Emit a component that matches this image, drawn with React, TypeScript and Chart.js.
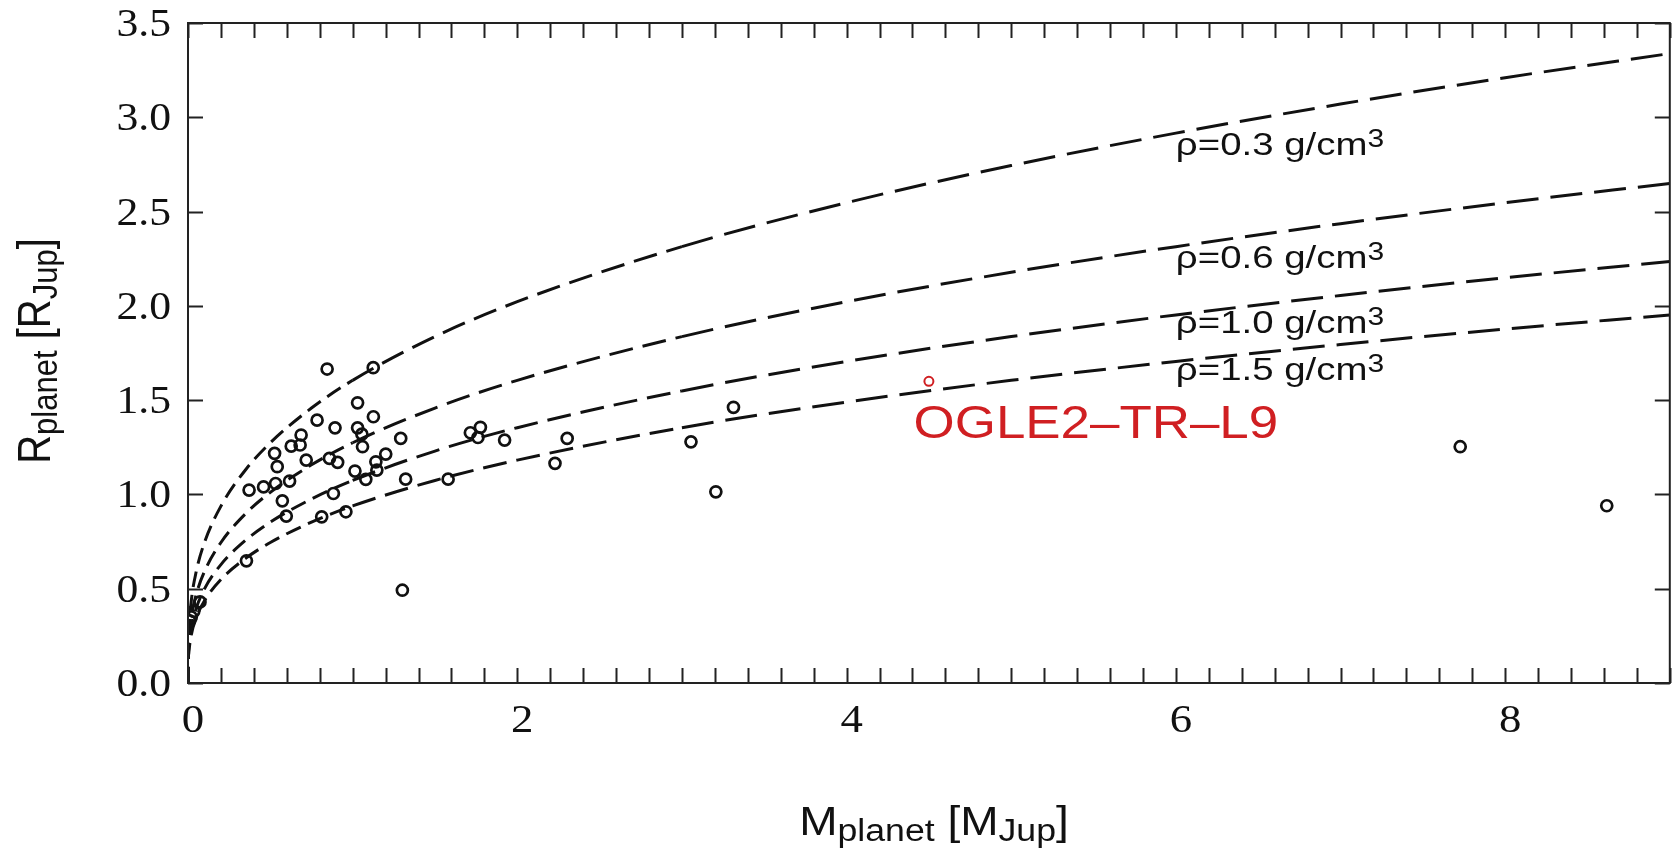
import { useEffect, useRef } from 'react';
import { Chart, registerables } from 'chart.js';

Chart.register(...registerables);

// Transiting planets: mass [M_Jup] and radius [R_Jup]
const PLANET_MASS = [
  0.845, 1.125, 1.03, 1.126, 0.784, 0.893, 1.03, 1.056, 0.687, 1.292,
  0.627, 0.681, 1.06, 0.526, 1.201, 0.718, 0.859, 0.909, 1.141, 0.542,
  1.147, 1.014, 0.617, 1.08, 0.532, 0.459, 0.371, 1.322, 1.58, 0.883,
  0.573, 0.597, 0.812, 0.959, 0.355, 1.302, 0.073, 1.715, 1.776, 1.761,
  1.923, 2.303, 2.229, 3.055, 3.313, 3.206, 7.727, 8.617,
  0.01, 0.02, 0.035,
];
const PLANET_RADIUS = [
  1.665, 1.672, 1.486, 1.412, 1.394, 1.353, 1.353, 1.32, 1.315, 1.297,
  1.256, 1.262, 1.253, 1.218, 1.214, 1.182, 1.191, 1.17, 1.173, 1.147,
  1.129, 1.124, 1.071, 1.08, 1.058, 1.04, 1.023, 1.081, 1.081, 1.005,
  0.966, 0.885, 0.881, 0.908, 0.648, 0.492, 0.43, 1.327, 1.356, 1.302,
  1.288, 1.297, 1.165, 1.279, 1.462, 1.014, 1.253, 0.94,
  0.33, 0.35, 0.38,
];

// OGLE2-TR-L9
const OGLE_MASS = [4.5];
const OGLE_RADIUS = [1.6];

// Iso-density curves, radius [R_Jup] tabulated against mass [M_Jup]
const CURVE_MASS = [0, 0.001, 0.005, 0.02, 0.05, 0.1, 0.2, 0.35, 0.5, 0.75, 1, 1.5, 2, 3, 4, 5, 6, 7, 8, 9];
const RADIUS_RHO_03 = [0, 0.16, 0.274, 0.436, 0.591, 0.745, 0.938, 1.131, 1.274, 1.458, 1.605, 1.837, 2.022, 2.314, 2.547, 2.744, 2.916, 3.07, 3.21, 3.338];
const RADIUS_RHO_06 = [0, 0.127, 0.218, 0.346, 0.469, 0.591, 0.745, 0.898, 1.011, 1.157, 1.274, 1.458, 1.605, 1.837, 2.022, 2.178, 2.314, 2.436, 2.547, 2.649];
const RADIUS_RHO_10 = [0, 0.107, 0.184, 0.292, 0.396, 0.499, 0.628, 0.757, 0.853, 0.976, 1.074, 1.23, 1.354, 1.549, 1.705, 1.837, 1.952, 2.055, 2.149, 2.235];
const RADIUS_RHO_15 = [0, 0.094, 0.16, 0.255, 0.346, 0.436, 0.549, 0.661, 0.745, 0.853, 0.939, 1.074, 1.182, 1.354, 1.49, 1.605, 1.705, 1.795, 1.877, 1.952];

const DENSITY_TEXT = ['ρ=0.3 g/cm', 'ρ=0.6 g/cm', 'ρ=1.0 g/cm', 'ρ=1.5 g/cm'];
const DENSITY_TEXT_X = [6.0, 6.0, 6.0, 6.0];
const DENSITY_TEXT_Y = [2.801, 2.201, 1.856, 1.607];

const X_TICK_VALUES = [0, 2, 4, 6, 8];
const X_TICK_LABELS = ['0', '2', '4', '6', '8'];
const Y_TICK_VALUES = [0, 0.5, 1.0, 1.5, 2.0, 2.5, 3.0, 3.5];
const Y_TICK_LABELS = ['0.0', '0.5', '1.0', '1.5', '2.0', '2.5', '3.0', '3.5'];

const SANS = '"Liberation Sans", Arial, sans-serif';
const SERIF = '"Liberation Serif", "Times New Roman", serif';
const INK = '#111';
const RED = '#d01f22';

type Run = { text: string; size: number; dy: number };

function drawRuns(
  ctx: CanvasRenderingContext2D,
  runs: Run[],
  x: number,
  y: number,
  family: string,
  color: string,
  align: 'left' | 'center' | 'right',
  sx: number,
  sy: number,
  rotate = false,
) {
  ctx.save();
  ctx.translate(x, y);
  if (rotate) ctx.rotate(-Math.PI / 2);
  ctx.scale(sx, sy);
  ctx.fillStyle = color;
  ctx.textAlign = 'left';
  ctx.textBaseline = 'alphabetic';
  let total = 0;
  const widths = runs.map((r) => {
    ctx.font = `${r.size}px ${family}`;
    const w = ctx.measureText(r.text).width;
    total += w;
    return w;
  });
  let cx = align === 'center' ? -total / 2 : align === 'right' ? -total : 0;
  runs.forEach((r, i) => {
    ctx.font = `${r.size}px ${family}`;
    ctx.fillText(r.text, cx, r.dy);
    cx += widths[i];
  });
  ctx.restore();
}

const framePlugin = {
  id: 'frameAndText',
  afterDraw(chart: any) {
    const { ctx, chartArea: a } = chart;
    const xs = chart.scales.x;
    const ys = chart.scales.y;
    const tick = 15;
    ctx.save();
    ctx.strokeStyle = '#222';
    ctx.lineWidth = 2;
    ctx.strokeRect(a.left, a.top, a.right - a.left, a.bottom - a.top);
    ctx.beginPath();
    for (const t of xs.ticks) {
      const px = Math.round(xs.getPixelForValue(t.value)) + 0.5;
      ctx.moveTo(px, a.bottom);
      ctx.lineTo(px, a.bottom - tick);
      ctx.moveTo(px, a.top);
      ctx.lineTo(px, a.top + tick);
    }
    for (const t of ys.ticks) {
      const py = Math.round(ys.getPixelForValue(t.value)) + 0.5;
      ctx.moveTo(a.left, py);
      ctx.lineTo(a.left + tick, py);
      ctx.moveTo(a.right, py);
      ctx.lineTo(a.right - tick, py);
    }
    ctx.stroke();
    ctx.restore();

    // tick labels
    X_TICK_VALUES.forEach((v, i) => {
      drawRuns(ctx, [{ text: X_TICK_LABELS[i], size: 40, dy: 0 }], xs.getPixelForValue(v) + 5, a.bottom + 49, SERIF, INK, 'center', 1.12, 1);
    });
    Y_TICK_VALUES.forEach((v, i) => {
      drawRuns(ctx, [{ text: Y_TICK_LABELS[i], size: 39, dy: 0 }], a.left - 17, ys.getPixelForValue(v) + 13, SERIF, INK, 'right', 1.12, 1);
    });

    // axis titles
    drawRuns(
      ctx,
      [
        { text: 'M', size: 40, dy: 0 },
        { text: 'planet', size: 31, dy: 6 },
        { text: ' [M', size: 40, dy: 0 },
        { text: 'Jup', size: 31, dy: 6 },
        { text: ']', size: 40, dy: 0 },
      ],
      934, 835, SANS, INK, 'center', 1.15, 1,
    );
    drawRuns(
      ctx,
      [
        { text: 'R', size: 40, dy: 0 },
        { text: 'planet', size: 31, dy: 6 },
        { text: ' [R', size: 40, dy: 0 },
        { text: 'Jup', size: 31, dy: 6 },
        { text: ']', size: 40, dy: 0 },
      ],
      50, 351, SANS, INK, 'center', 1, 1.15, true,
    );

    // density labels
    DENSITY_TEXT.forEach((t, i) => {
      drawRuns(
        ctx,
        [
          { text: t, size: 32, dy: 0 },
          { text: '3', size: 25, dy: -8 },
        ],
        xs.getPixelForValue(DENSITY_TEXT_X[i]),
        ys.getPixelForValue(DENSITY_TEXT_Y[i]),
        SANS, INK, 'left', 1.2, 1,
      );
    });

    // planet name
    drawRuns(ctx, [{ text: 'OGLE2–TR–L9', size: 46, dy: 0 }], xs.getPixelForValue(4.407), ys.getPixelForValue(1.299), SANS, RED, 'left', 1.15, 1);
  },
};

const whiteBg = {
  id: 'whiteBg',
  beforeDraw(chart: any) {
    const { ctx, width, height } = chart;
    ctx.save();
    ctx.fillStyle = '#fff';
    ctx.fillRect(0, 0, width, height);
    ctx.restore();
  },
};

// dashes lengthen as the curves flatten out toward high mass
function dashFor(ctx: any) {
  const m = ctx.p0.parsed.x;
  if (m < 1) return [16, 8];
  if (m < 3) return [24, 10];
  return [32, 12];
}

function curve(radii: number[]) {
  return {
    type: 'line' as const,
    data: CURVE_MASS.map((m, i) => ({ x: m, y: radii[i] })),
    showLine: true,
    borderColor: INK,
    borderWidth: 3,
    borderDash: [16, 8],
    segment: { borderDash: dashFor },
    pointRadius: 0,
    fill: false,
    cubicInterpolationMode: 'monotone' as const,
  };
}

export default function App() {
  const ref = useRef<HTMLCanvasElement>(null);

  useEffect(() => {
    const chart = new Chart(ref.current!, {
      type: 'scatter',
      data: {
        datasets: [
          {
            data: OGLE_MASS.map((m, i) => ({ x: m, y: OGLE_RADIUS[i] })),
            pointStyle: 'circle',
            pointRadius: 4.5,
            borderWidth: 2,
            borderColor: RED,
            backgroundColor: 'rgba(0,0,0,0)',
          },
          {
            data: PLANET_MASS.map((m, i) => ({ x: m, y: PLANET_RADIUS[i] })),
            pointStyle: 'circle',
            pointRadius: 5.5,
            borderWidth: 2.7,
            borderColor: INK,
            backgroundColor: 'rgba(0,0,0,0)',
          },
          curve(RADIUS_RHO_03) as any,
          curve(RADIUS_RHO_06) as any,
          curve(RADIUS_RHO_10) as any,
          curve(RADIUS_RHO_15) as any,
        ],
      },
      options: {
        animation: false,
        responsive: false,
        devicePixelRatio: 1,
        layout: { padding: { top: 23, right: 1, left: 0, bottom: 0 } },
        plugins: { legend: { display: false }, tooltip: { enabled: false } },
        events: [],
        scales: {
          x: {
            type: 'linear',
            min: 0,
            max: 9,
            ticks: { display: false, stepSize: 0.2 },
            grid: { display: false, drawTicks: false },
            border: { display: false },
            afterFit: (s: any) => {
              s.height = 169;
            },
          },
          y: {
            type: 'linear',
            min: 0,
            max: 3.5,
            ticks: { display: false, stepSize: 0.5 },
            grid: { display: false, drawTicks: false },
            border: { display: false },
            afterFit: (s: any) => {
              s.width = 188;
            },
          },
        },
      },
      plugins: [whiteBg, framePlugin],
    });
    return () => chart.destroy();
  }, []);

  return (
    <div style={{ position: 'fixed', left: 0, top: 0, width: 1678, height: 852, background: '#fff' }}>
      <canvas ref={ref} width={1678} height={852} style={{ display: 'block' }} />
    </div>
  );
}
